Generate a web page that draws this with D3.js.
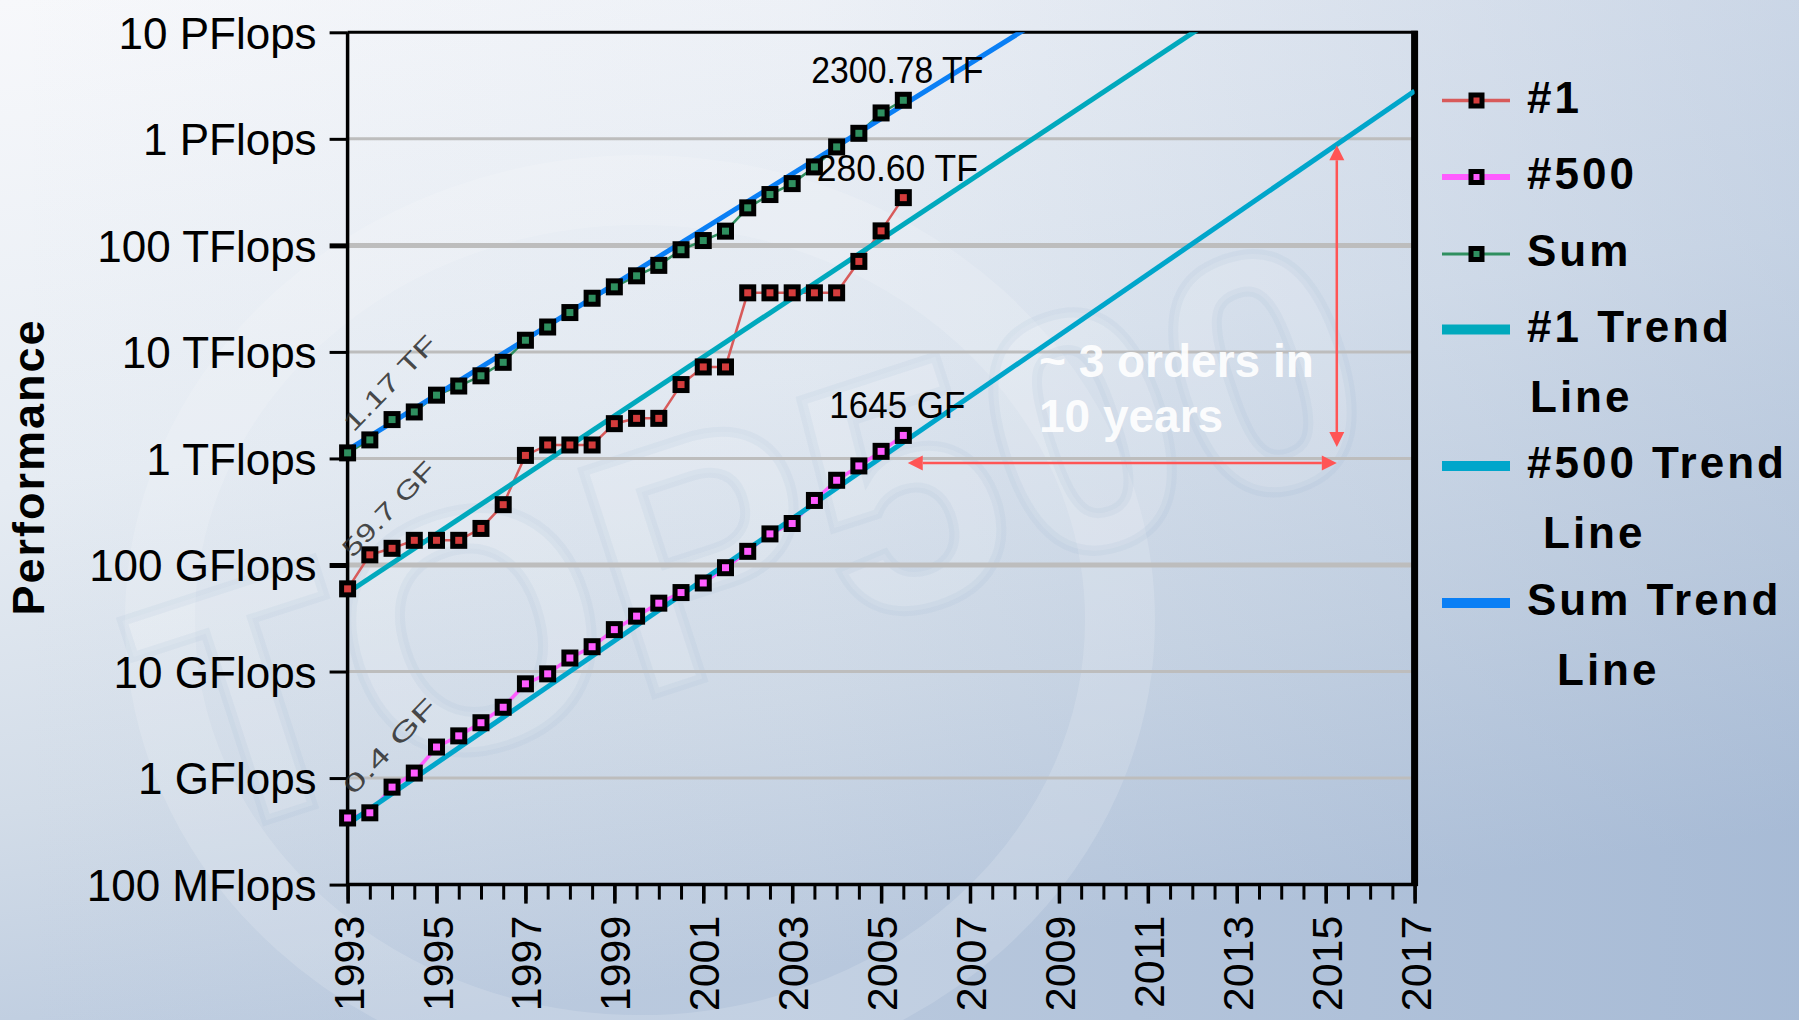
<!DOCTYPE html>
<html>
<head>
<meta charset="utf-8">
<title>TOP500 Performance Development</title>
<script src="https://cdn.jsdelivr.net/npm/d3@7"></script>
<style>
  html, body { margin: 0; padding: 0; overflow: hidden; background: #e4eaf2; }
  svg { display: block; }
</style>
</head>
<body>
<svg id="chart" width="1799" height="1020"></svg>
<script>
// ---- Data (performance in GFlops) ----
const listDates = [1993.0, 1993.5, 1994.0, 1994.5, 1995.0, 1995.5, 1996.0, 1996.5, 1997.0, 1997.5,
                   1998.0, 1998.5, 1999.0, 1999.5, 2000.0, 2000.5, 2001.0, 2001.5, 2002.0, 2002.5,
                   2003.0, 2003.5, 2004.0, 2004.5, 2005.0, 2005.5];
const rank1 = [59.7, 124.5, 143.4, 170.4, 170.4, 170.4, 220.4, 368.2, 1068, 1338,
               1338, 1338, 2121, 2379, 2379, 4938, 7226, 7226, 35860, 35860,
               35860, 35860, 35860, 70720, 136800, 280600];
const rank500 = [0.422, 0.472, 0.822, 1.114, 1.955, 2.489, 3.306, 4.619, 7.667, 9.513,
                 13.39, 17.1, 24.73, 33.1, 43.82, 55.1, 67.78, 94.3, 134.3, 195.8,
                 245.1, 403.4, 624, 850.6, 1166, 1645];
const sumAll = [1128, 1493, 2317, 2732, 3927, 4784, 5966, 7985, 12870, 17130,
                23410, 31900, 40800, 51800, 64900, 91000, 111000, 136000, 225000, 300000,
                380000, 545000, 840000, 1127000, 1750000, 2300780];

// Trend lines: fitted value at the start and end of the time axis
const trendYears = [1993, 2017];
const rank1Trend = [54.9, 2.37e8];
const rank500Trend = [0.369, 2.81e6];
const sumTrend = [1200, 1.99e9];

// Axis ticks
const yTickValues = [0.1, 1, 10, 100, 1e3, 1e4, 1e5, 1e6, 1e7];
const yTickLabels = ["100 MFlops", "1 GFlops", "10 GFlops", "100 GFlops", "1 TFlops",
                     "10 TFlops", "100 TFlops", "1 PFlops", "10 PFlops"];
const xLabelYears = [1993, 1995, 1997, 1999, 2001, 2003, 2005, 2007, 2009, 2011, 2013, 2015, 2017];
const xMinorTicks = d3.range(1993, 2017.01, 0.5);

// Value labels
const startLabels = ["1.17 TF", "59.7 GF", "0.4 GF"];
const endLabels = ["2300.78 TF", "280.60 TF", "1645 GF"];

// "~3 orders in 10 years" annotation
const spanYears = [2005.6, 2015.25];
const spanValues = [1280, 870000];
const spanBaseValue = 905;

// ---- Layout ----
const W = 1799, H = 1020;
const plot = { left: 347.6, right: 1414.6, top: 32.3, bottom: 884.6 };

const x = d3.scaleLinear().domain([1993, 2017]).range([plot.left, plot.right]);
const y = d3.scaleLog().domain([0.1, 1e7]).range([plot.bottom, plot.top]);

const colors = {
  rank1: "#d43c3c", rank1Line: "#d85a5a",
  rank500: "#ff5cff",
  sum: "#2f8f5f",
  rank1Trend: "#00a9bd",
  rank500Trend: "#00a6cb",
  sumTrend: "#0a7ff5"
};

const svg = d3.select("#chart");
const defs = svg.append("defs");

// Background: light top fading to blue-grey at the bottom, darker towards the right
const bgV = defs.append("linearGradient").attr("id", "bgV")
  .attr("x1", "0").attr("y1", "0").attr("x2", "0.25").attr("y2", "1");
[["0%", "#f7f8fb"], ["45%", "#e6ecf3"], ["75%", "#d2dce8"], ["100%", "#bccbdf"]]
  .forEach(([o, c]) => bgV.append("stop").attr("offset", o).attr("stop-color", c));
const bgH = defs.append("linearGradient").attr("id", "bgH")
  .attr("x1", "0").attr("y1", "0").attr("x2", "1").attr("y2", "0");
[["0%", 0], ["45%", 0.05], ["100%", 0.3]]
  .forEach(([o, a]) => bgH.append("stop").attr("offset", o).attr("stop-color", "#7896c0").attr("stop-opacity", a));
svg.append("rect").attr("width", W).attr("height", H).attr("fill", "url(#bgV)");
svg.append("rect").attr("width", W).attr("height", H).attr("fill", "url(#bgH)");

// Faint watermark
const wm = svg.append("g");
wm.append("ellipse").attr("cx", 640).attr("cy", 620).attr("rx", 480).attr("ry", 430)
  .attr("fill", "none").attr("stroke", "#ffffff").attr("stroke-opacity", 0.15).attr("stroke-width", 70);
wm.append("text")
  .attr("transform", "translate(790,650) rotate(-18)")
  .attr("text-anchor", "middle")
  .attr("font-family", "Liberation Sans, Arial, sans-serif")
  .attr("font-weight", "bold").attr("font-size", 340)
  .attr("fill", "#ffffff").attr("fill-opacity", 0.14)
  .attr("stroke", "#8aa2c4").attr("stroke-opacity", 0.09).attr("stroke-width", 10)
  .text("TOP500");

// Clip for trend lines
defs.append("clipPath").attr("id", "plotClip").append("rect")
  .attr("x", plot.left).attr("y", plot.top)
  .attr("width", plot.right - plot.left).attr("height", plot.bottom - plot.top);

// Gridlines
svg.append("g").selectAll("line")
  .data(yTickValues.filter(v => v > 0.1 && v < 1e7))
  .join("line")
  .attr("x1", plot.left).attr("x2", plot.right)
  .attr("y1", d => y(d)).attr("y2", d => y(d))
  .attr("stroke", "#bdbdbd")
  .attr("stroke-width", d => (d === 100 || d === 1e5) ? 5 : 3);

// Y axis
const yAxis = svg.append("g").attr("transform", `translate(${plot.left},0)`)
  .call(d3.axisLeft(y).tickValues(yTickValues).tickFormat((d, i) => yTickLabels[i])
    .tickSize(18).tickPadding(13).tickSizeOuter(0));
yAxis.select(".domain").remove();
yAxis.selectAll(".tick line").attr("stroke", "#000")
  .attr("stroke-width", d => (d === 100 || d === 1e5) ? 5 : 3);
yAxis.selectAll(".tick text")
  .attr("font-family", "Liberation Sans, Arial, sans-serif")
  .attr("font-size", 44).attr("fill", "#000").attr("dy", "0.36em");

// X axis: minor half-year ticks, then labelled two-year ticks
const xMinor = svg.append("g").attr("transform", `translate(0,${plot.bottom})`)
  .call(d3.axisBottom(x).tickValues(xMinorTicks).tickFormat("").tickSize(15).tickSizeOuter(0));
xMinor.select(".domain").remove();
xMinor.selectAll(".tick line").attr("stroke", "#000").attr("stroke-width", 3);

const xMajor = svg.append("g").attr("transform", `translate(0,${plot.bottom})`)
  .call(d3.axisBottom(x).tickValues(xLabelYears).tickFormat(d3.format("d")).tickSize(19).tickSizeOuter(0));
xMajor.select(".domain").remove();
xMajor.selectAll(".tick line").attr("stroke", "#000").attr("stroke-width", 3.5);
xMajor.selectAll(".tick text")
  .attr("transform", "rotate(-90)")
  .attr("x", -31).attr("y", 0).attr("dy", "0.36em")
  .attr("text-anchor", "end")
  .attr("font-family", "Liberation Sans, Arial, sans-serif")
  .attr("font-size", 43).attr("fill", "#000");

// Plot frame
const frame = svg.append("g").attr("stroke", "#000").attr("fill", "none");
frame.append("line").attr("x1", plot.left).attr("x2", plot.right + 3).attr("y1", plot.top).attr("y2", plot.top).attr("stroke-width", 3);
frame.append("line").attr("x1", plot.left).attr("x2", plot.right + 3).attr("y1", plot.bottom).attr("y2", plot.bottom).attr("stroke-width", 3.5);
frame.append("line").attr("x1", plot.left).attr("x2", plot.left).attr("y1", plot.top).attr("y2", plot.bottom).attr("stroke-width", 3.5);
frame.append("line").attr("x1", plot.right).attr("x2", plot.right).attr("y1", plot.top - 1.5).attr("y2", plot.bottom + 1.5).attr("stroke-width", 7);

// Axis title
svg.append("text")
  .attr("transform", `translate(44,467) rotate(-90)`)
  .attr("text-anchor", "middle")
  .attr("font-family", "Liberation Sans, Arial, sans-serif")
  .attr("font-weight", "bold").attr("font-size", 45).attr("letter-spacing", 2)
  .attr("fill", "#000").text("Performance");

// Series
const series = [
  { key: "sum", values: sumAll, line: colors.sum, fill: colors.sum, width: 2.5 },
  { key: "rank1", values: rank1, line: colors.rank1Line, fill: colors.rank1, width: 2.5 },
  { key: "rank500", values: rank500, line: colors.rank500, fill: colors.rank500, width: 3.5 }
].map(s => ({ ...s, points: listDates.map((t, i) => ({ t, v: s.values[i] })) }));

const line = d3.line().x(d => x(d.t)).y(d => y(d.v));

svg.append("g").selectAll("path")
  .data(series).join("path")
  .attr("d", s => line(s.points))
  .attr("fill", "none").attr("stroke", s => s.line).attr("stroke-width", s => s.width);

// Trend lines
const trends = [
  { values: sumTrend, color: colors.sumTrend },
  { values: rank1Trend, color: colors.rank1Trend },
  { values: rank500Trend, color: colors.rank500Trend }
];
svg.append("g").attr("clip-path", "url(#plotClip)").selectAll("path")
  .data(trends).join("path")
  .attr("d", tr => line(trendYears.map((t, i) => ({ t, v: tr.values[i] }))))
  .attr("fill", "none").attr("stroke", tr => tr.color).attr("stroke-width", 5);

// Markers
series.forEach(s => {
  svg.append("g").selectAll("rect")
    .data(s.points).join("rect")
    .attr("x", d => x(d.t) - 6).attr("y", d => y(d.v) - 6)
    .attr("width", 12).attr("height", 12)
    .attr("fill", s.fill).attr("stroke", "#000").attr("stroke-width", 5);
});

// Start labels (rotated) and end labels
const startOffsets = [[6, -20], [5, -30], [6, -22]];
series.forEach((s, i) => {
  const p = s.points[0];
  svg.append("text")
    .attr("transform", `translate(${x(p.t) + startOffsets[i][0]},${y(p.v) + startOffsets[i][1]}) rotate(-46)`)
    .attr("font-family", "Liberation Sans, Arial, sans-serif")
    .attr("font-size", 25).attr("fill", "#2a2a2a").attr("fill-opacity", 0.85)
    .attr("textLength", 122).attr("lengthAdjust", "spacingAndGlyphs")
    .text(startLabels[i]);
  const q = s.points[s.points.length - 1];
  const w = [172, 161, 136][i];
  svg.append("text")
    .attr("x", x(q.t) - 6).attr("y", y(q.v) - 17)
    .attr("text-anchor", "middle")
    .attr("font-family", "Liberation Sans, Arial, sans-serif")
    .attr("font-size", 37).attr("fill", "#000")
    .attr("textLength", w).attr("lengthAdjust", "spacingAndGlyphs")
    .text(endLabels[i]);
});

// Annotation
const ann = svg.append("g");
const red = "#ff5555";
const vx = x(spanYears[1]);
const vTop = y(spanValues[1]), vBot = y(spanValues[0]);
const hy = y(spanBaseValue);
const hLeft = x(spanYears[0]), hRight = x(spanYears[1]);
const head = 15, half = 7.5;
ann.append("line").attr("x1", vx).attr("x2", vx).attr("y1", vTop + head).attr("y2", vBot - head)
  .attr("stroke", red).attr("stroke-width", 2.5);
ann.append("path").attr("d", `M${vx},${vTop}L${vx - half},${vTop + head}L${vx + half},${vTop + head}Z`).attr("fill", red);
ann.append("path").attr("d", `M${vx},${vBot}L${vx - half},${vBot - head}L${vx + half},${vBot - head}Z`).attr("fill", red);
ann.append("line").attr("x1", hLeft + head).attr("x2", hRight - head).attr("y1", hy).attr("y2", hy)
  .attr("stroke", red).attr("stroke-width", 2.5);
ann.append("path").attr("d", `M${hLeft},${hy}L${hLeft + head},${hy - half}L${hLeft + head},${hy + half}Z`).attr("fill", red);
ann.append("path").attr("d", `M${hRight},${hy}L${hRight - head},${hy - half}L${hRight - head},${hy + half}Z`).attr("fill", red);

const annText = ann.append("text")
  .attr("font-family", "Liberation Sans, Arial, sans-serif")
  .attr("font-weight", "bold").attr("font-size", 46)
  .attr("fill", "#ffffff").attr("fill-opacity", 0.92);
annText.append("tspan").attr("x", 1039).attr("y", 377).text("~ 3 orders in");
annText.append("tspan").attr("x", 1039).attr("y", 432).text("10 years");

// Legend
const legend = svg.append("g").attr("font-family", "Liberation Sans, Arial, sans-serif")
  .attr("font-weight", "bold").attr("font-size", 44).attr("letter-spacing", 3).attr("fill", "#000");
const legendItems = [
  { label: ["#1"], color: colors.rank1Line, fill: colors.rank1, width: 3.5, marker: true, y: 100.5 },
  { label: ["#500"], color: colors.rank500, fill: colors.rank500, width: 6, marker: true, y: 177 },
  { label: ["Sum"], color: colors.sum, fill: colors.sum, width: 3, marker: true, y: 254 },
  { label: ["#1 Trend", "Line"], color: colors.rank1Trend, width: 10, marker: false, y: 329.5, indent: 3 },
  { label: ["#500 Trend", "Line"], color: colors.rank500Trend, width: 10, marker: false, y: 466, indent: 16 },
  { label: ["Sum Trend", "Line"], color: colors.sumTrend, width: 10, marker: false, y: 603, indent: 30 }
];
legendItems.forEach(it => {
  legend.append("line").attr("x1", 1442).attr("x2", 1510).attr("y1", it.y).attr("y2", it.y)
    .attr("stroke", it.color).attr("stroke-width", it.width);
  if (it.marker) {
    legend.append("rect").attr("x", 1471).attr("y", it.y - 5.5).attr("width", 11).attr("height", 11)
      .attr("fill", it.fill).attr("stroke", "#000").attr("stroke-width", 5);
  }
  legend.append("text").attr("x", 1527).attr("y", it.y + 12).text(it.label[0]);
  if (it.label[1]) {
    legend.append("text").attr("x", 1527 + it.indent).attr("y", it.y + 82).text(it.label[1]);
  }
});
</script>
</body>
</html>
